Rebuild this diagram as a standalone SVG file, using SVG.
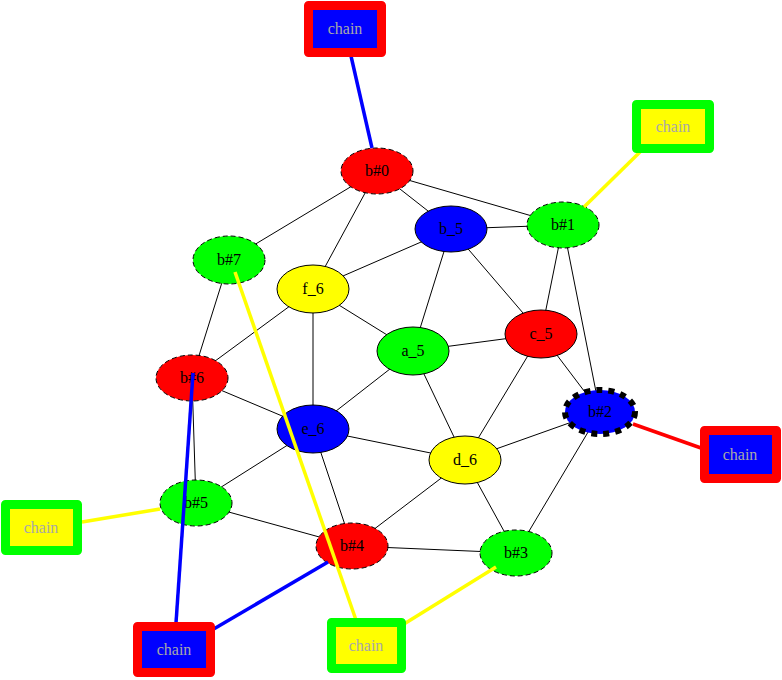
<svg xmlns="http://www.w3.org/2000/svg" width="782" height="680" viewBox="0 0 782 680">
<style>
.e{stroke:#000;stroke-width:1;fill:none}
.n ellipse{stroke:#000;stroke-width:1}
.d ellipse{stroke-dasharray:5,3}
.t{font-family:"Liberation Serif","Times New Roman",serif;font-size:16px;text-anchor:middle;fill:#000}
.c rect.o{stroke-width:9;stroke-linejoin:round}
.ct{font-family:"Liberation Serif","Times New Roman",serif;font-size:16px;text-anchor:middle;fill:#a8a8a8}
.ce{stroke-width:3.5;fill:none}
</style>
<rect width="782" height="680" fill="#fff"/>
<g id="edges">
<line class="e" x1="377" y1="171" x2="451" y2="229"/>
<line class="e" x1="377" y1="171" x2="563" y2="225"/>
<line class="e" x1="377" y1="171" x2="229" y2="260"/>
<line class="e" x1="377" y1="171" x2="313" y2="289"/>
<line class="e" x1="451" y1="229" x2="563" y2="225"/>
<line class="e" x1="451" y1="229" x2="313" y2="289"/>
<line class="e" x1="451" y1="229" x2="541" y2="334"/>
<line class="e" x1="451" y1="229" x2="413" y2="351"/>
<line class="e" x1="563" y1="225" x2="541" y2="334"/>
<line class="e" x1="563" y1="225" x2="600" y2="412"/>
<line class="e" x1="229" y1="260" x2="192" y2="378"/>
<line class="e" x1="313" y1="289" x2="192" y2="378"/>
<line class="e" x1="313" y1="289" x2="413" y2="351"/>
<line class="e" x1="313" y1="289" x2="313" y2="429"/>
<line class="e" x1="413" y1="351" x2="541" y2="334"/>
<line class="e" x1="413" y1="351" x2="313" y2="429"/>
<line class="e" x1="413" y1="351" x2="465" y2="460"/>
<line class="e" x1="541" y1="334" x2="600" y2="412"/>
<line class="e" x1="541" y1="334" x2="465" y2="460"/>
<line class="e" x1="192" y1="378" x2="313" y2="429"/>
<line class="e" x1="192" y1="378" x2="196" y2="503"/>
<line class="e" x1="600" y1="412" x2="465" y2="460"/>
<line class="e" x1="600" y1="412" x2="516" y2="553"/>
<line class="e" x1="313" y1="429" x2="465" y2="460"/>
<line class="e" x1="313" y1="429" x2="196" y2="503"/>
<line class="e" x1="313" y1="429" x2="352" y2="546"/>
<line class="e" x1="465" y1="460" x2="352" y2="546"/>
<line class="e" x1="465" y1="460" x2="516" y2="553"/>
<line class="e" x1="196" y1="503" x2="352" y2="546"/>
<line class="e" x1="352" y1="546" x2="516" y2="553"/>
</g>
<g id="b0" class="n d"><ellipse cx="377" cy="171" rx="36" ry="23" fill="#f00"/><text class="t" x="377" y="176">b#0</text></g>
<g id="b_5" class="n"><ellipse cx="451" cy="229" rx="36" ry="23" fill="#00f"/><text class="t" x="451" y="234">b_5</text></g>
<g id="b1" class="n d"><ellipse cx="563" cy="225" rx="36" ry="23" fill="#0f0"/><text class="t" x="563" y="230">b#1</text></g>
<g id="b7" class="n d"><ellipse cx="229" cy="260" rx="36" ry="24" fill="#0f0"/><text class="t" x="229" y="265">b#7</text></g>
<g id="f_6" class="n"><ellipse cx="313" cy="289" rx="36" ry="24" fill="#ff0"/><text class="t" x="313" y="294">f_6</text></g>
<g id="c_5" class="n"><ellipse cx="541" cy="334" rx="36" ry="24" fill="#f00"/><text class="t" x="541" y="339">c_5</text></g>
<g id="a_5" class="n"><ellipse cx="413" cy="351" rx="36" ry="24" fill="#0f0"/><text class="t" x="413" y="356">a_5</text></g>
<g id="b6" class="n d"><ellipse cx="192" cy="378" rx="36" ry="23" fill="#f00"/><text class="t" x="192" y="383">b#6</text></g>
<g id="b2" class="n"><ellipse cx="600" cy="412" rx="35" ry="22" fill="#00f" style="stroke-width:6;stroke-dasharray:6,6"/><text class="t" x="600" y="417">b#2</text></g>
<g id="e_6" class="n"><ellipse cx="313" cy="429" rx="36" ry="24" fill="#00f"/><text class="t" x="313" y="434">e_6</text></g>
<g id="d_6" class="n"><ellipse cx="465" cy="460" rx="36" ry="24" fill="#ff0"/><text class="t" x="465" y="465">d_6</text></g>
<g id="b5" class="n d"><ellipse cx="196" cy="503" rx="36" ry="23" fill="#0f0"/><text class="t" x="196" y="508">b#5</text></g>
<g id="b4" class="n d"><ellipse cx="352" cy="546" rx="36" ry="23" fill="#f00"/><text class="t" x="352" y="551">b#4</text></g>
<g id="b3" class="n d"><ellipse cx="516" cy="553" rx="36" ry="23" fill="#0f0"/><text class="t" x="516" y="558">b#3</text></g>
<g id="chain-edges">
<line class="ce" stroke="#00f" x1="351" y1="56" x2="372" y2="148"/>
<line class="ce" stroke="#ff0" x1="640" y1="152" x2="584" y2="207"/>
<line class="ce" stroke="#f00" x1="633" y1="424" x2="701" y2="448"/>
<line class="ce" stroke="#ff0" x1="160" y1="509" x2="82" y2="522"/>
<line class="ce" stroke="#00f" x1="193" y1="373" x2="176" y2="623"/>
<line class="ce" stroke="#00f" x1="328" y1="562" x2="212" y2="630"/>
<line class="ce" stroke="#ff0" x1="235" y1="272" x2="356" y2="620"/>
<line class="ce" stroke="#ff0" x1="496" y1="567" x2="404" y2="624"/>
</g>
<g id="chain0" class="c"><rect class="o" x="308.5" y="5.5" width="73" height="47" fill="#00f" stroke="#f00"/><text class="ct" x="345" y="34">chain</text></g>
<g id="chain1" class="c"><rect class="o" x="636.5" y="104.5" width="73" height="44" fill="#ff0" stroke="#0f0"/><text class="ct" x="673" y="132">chain</text></g>
<g id="chain2" class="c"><rect class="o" x="704.5" y="430.5" width="72" height="48" fill="#00f" stroke="#f00"/><text class="ct" x="740" y="460">chain</text></g>
<g id="chain5" class="c"><rect class="o" x="5.5" y="504.5" width="72" height="46" fill="#ff0" stroke="#0f0"/><text class="ct" x="41" y="533">chain</text></g>
<g id="chain6" class="c"><rect class="o" x="137.5" y="626.5" width="73" height="46" fill="#00f" stroke="#f00"/><text class="ct" x="174" y="655">chain</text></g>
<g id="chain3" class="c"><rect class="o" x="331.5" y="622.5" width="70" height="46" fill="#ff0" stroke="#0f0"/><text class="ct" x="366" y="651">chain</text></g>
</svg>
